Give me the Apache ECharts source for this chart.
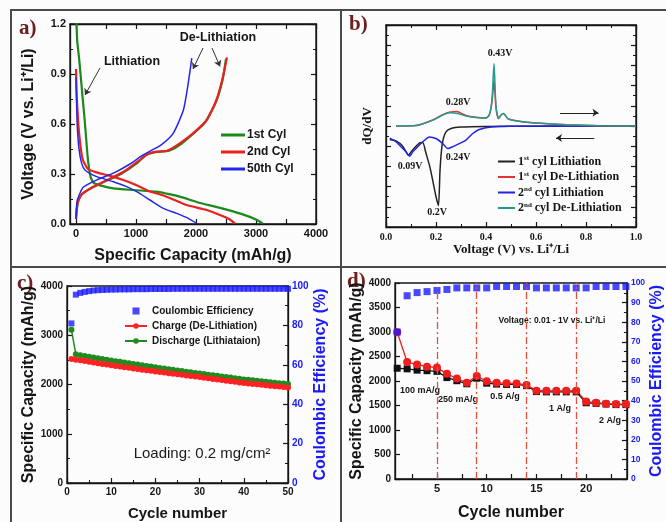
<!DOCTYPE html>
<html>
<head>
<meta charset="utf-8">
<script src="https://cdn.jsdelivr.net/npm/echarts@6/dist/echarts.min.js"></script>
<style>
html,body{margin:0;padding:0;background:#fcfcfc;}
#main{width:666px;height:522px;}
</style>
</head>
<body>
<div id="main"></div>
<script>
// a) voltage profiles, [capacity mAh/g, voltage V]
const aLith1 = [[5,1.25],[20,1.1],[50,1.0],[100,0.8],[150,0.6],[190,0.42],[215,0.34],[245,0.28],[300,0.245],[400,0.232],[620,0.214],[950,0.204],[1340,0.194],[1510,0.182],[1730,0.164],[2070,0.126],[2300,0.106],[2510,0.086],[2790,0.056],[3010,0.026],[3110,0.004]];
const aDelith1 = [[0,0.03],[25,0.12],[80,0.17],[200,0.205],[450,0.25],[750,0.3],[1000,0.36],[1150,0.41],[1300,0.43],[1550,0.44],[1750,0.48],[1950,0.54],[2150,0.61],[2330,0.73],[2440,0.86],[2500,0.99]];
const aLith2 = [[0,0.93],[15,0.75],[50,0.55],[110,0.39],[200,0.33],[344,0.31],[556,0.29],[800,0.262],[1000,0.234],[1200,0.2],[1510,0.164],[1844,0.114],[2178,0.084],[2400,0.054],[2550,0.03],[2650,0.004]];
const aDelith2 = [[0,0.03],[30,0.13],[100,0.18],[250,0.215],[500,0.26],[800,0.315],[1050,0.38],[1200,0.42],[1350,0.434],[1520,0.44],[1730,0.484],[1950,0.544],[2180,0.624],[2340,0.744],[2450,0.884],[2515,1.0]];
const aLith50 = [[0,0.88],[20,0.6],[50,0.45],[94,0.364],[150,0.324],[345,0.284],[622,0.254],[844,0.224],[1011,0.194],[1233,0.144],[1456,0.094],[1678,0.064],[1872,0.034],[2011,0.004]];
const aDelith50 = [[0,0.03],[20,0.14],[120,0.22],[350,0.265],[650,0.31],[900,0.36],[1100,0.41],[1250,0.44],[1420,0.475],[1620,0.544],[1790,0.684],[1870,0.844],[1930,0.995]];
const aXTicks = [0,1000,2000,3000,4000];
const aXMinor = [0,500,1000,1500,2000,2500,3000,3500,4000];

// b) dQ/dV, [voltage V, arbitrary units]
const bLith1 = [[0.015,-0.67],[0.04,-0.74],[0.067,-1.0],[0.09,-1.45],[0.1,-1.28],[0.12,-1.0],[0.136,-0.83],[0.147,-0.82],[0.16,-1.35],[0.175,-2.0],[0.187,-2.7],[0.2,-3.5],[0.21,-3.95],[0.216,-2.2],[0.222,-1.2],[0.228,-0.7],[0.24,-0.29],[0.26,-0.12],[0.3,-0.05],[0.4,-0.02],[0.6,-0.01],[1.0,0]];
const bDelith1 = [[0.04,0],[0.12,0.02],[0.187,0.3],[0.227,0.56],[0.253,0.68],[0.283,0.72],[0.32,0.52],[0.36,0.43],[0.4,0.4],[0.413,0.54],[0.424,1.2],[0.432,2.27],[0.44,0.9],[0.45,0.37],[0.46,0.54],[0.47,0.62],[0.487,0.37],[0.52,0.26],[0.587,0.16],[0.72,0.06],[0.853,0.01],[1.0,0]];
const bLith2 = [[0.015,-0.6],[0.04,-0.78],[0.06,-1.03],[0.08,-1.28],[0.095,-1.5],[0.107,-1.28],[0.127,-1.03],[0.147,-0.78],[0.173,-0.54],[0.2,-0.62],[0.227,-0.87],[0.247,-1.12],[0.267,-1.03],[0.293,-0.87],[0.32,-0.7],[0.347,-0.37],[0.373,-0.17],[0.42,-0.05],[0.5,-0.01],[1.0,0]];
const bDelith2 = [[0.04,0],[0.12,0.02],[0.187,0.29],[0.227,0.54],[0.253,0.65],[0.287,0.62],[0.32,0.49],[0.36,0.42],[0.4,0.39],[0.413,0.54],[0.424,1.3],[0.432,3.1],[0.44,0.95],[0.45,0.37],[0.46,0.54],[0.47,0.62],[0.487,0.37],[0.52,0.26],[0.587,0.16],[0.72,0.06],[0.853,0.01],[1.0,0]];

// c) cycling at 0.2 mg/cm2, cycles 1..50
const cCharge = [2520,2505,2490,2476,2462,2447,2433,2418,2404,2390,2377,2364,2351,2338,2325,2313,2301,2289,2277,2265,2253,2242,2230,2219,2207,2196,2184,2173,2161,2150,2138,2126,2114,2102,2090,2078,2066,2054,2042,2030,2021,2012,2003,1994,1985,1976,1967,1958,1949,1940];
const cDischarge = [3110,2612,2596,2580,2565,2549,2534,2518,2503,2488,2474,2460,2446,2432,2418,2404,2391,2378,2364,2350,2337,2324,2311,2299,2286,2274,2261,2249,2236,2224,2212,2200,2188,2176,2164,2152,2140,2128,2116,2104,2094,2084,2075,2065,2056,2046,2037,2027,2018,2008];
const cCE = [81,95.6,96.5,97,97.4,97.7,97.9,98,98.1,98.2,98.2,98.3,98.3,98.3,98.4,98.4,98.4,98.4,98.5,98.5,98.5,98.5,98.5,98.6,98.6,98.6,98.6,98.6,98.6,98.6,98.6,98.6,98.6,98.6,98.6,98.6,98.6,98.6,98.6,98.6,98.6,98.6,98.6,98.6,98.6,98.6,98.6,98.6,98.6,98.6];

// d) rate capability, cycles 1..24
const dCharge = [2996,2387,2336,2292,2273,2146,2051,1962,2102,1994,1962,1956,1950,1918,1803,1803,1800,1800,1803,1581,1556,1537,1530,1530];
const dDischarge = [2260,2248,2222,2210,2197,2070,2006,1943,2057,1956,1937,1930,1930,1905,1784,1778,1778,1778,1778,1556,1543,1530,1518,1518];
const dCE = [75,93.5,95.1,95.6,96.2,96.7,97.5,97.5,97.5,97.5,98.2,98.2,98.2,98.2,97.5,97.5,97.5,97.5,97.5,97.5,98.2,98.2,98.2,98.2];
const dRateLines = [5,9,14,19];
const dXTicks = [5,10,15,20];
const dXMinor = [2.5,5,7.5,10,12.5,15,17.5,20,22.5];

const byCycle = arr => arr.map((v, i) => [i + 1, v]);

const SANS = '"Liberation Sans", Arial, sans-serif';
const SERIF = '"Liberation Serif", "Times New Roman", serif';
const BLUE = '#1a1af5';
const INK = '#151515';
const line = {show: true, onZero: false, lineStyle: {color: INK, width: 1.3}};
const tick = {show: true, inside: true, length: 5, lineStyle: {color: INK, width: 1.2}};
const minor = {show: true, splitNumber: 2, length: 3, lineStyle: {color: INK, width: 1}};
const plain = v => String(v);
const sansLab = (size, color) => ({fontFamily: SANS, fontWeight: 'bold', fontSize: size, color: color || INK, margin: 4, formatter: plain});
const sansName = (size, color) => ({fontFamily: SANS, fontWeight: 'bold', fontSize: size, color: color || INK});
const serifLab = {fontFamily: SERIF, fontWeight: 'bold', fontSize: 10, color: INK, margin: 5};
const hidden = {show: false};

const myChart = echarts.init(document.getElementById('main'));

myChart.setOption({
  backgroundColor: '#fcfcfc',
  animation: false,
  grid: [
    {left: 70, top: 24, width: 246, height: 200, show: true, borderColor: INK, borderWidth: 1.3},
    {left: 386, top: 25, width: 250, height: 202, show: true, borderColor: INK, borderWidth: 1.3},
    {left: 67, top: 286, width: 221, height: 205, show: true, borderColor: INK, borderWidth: 1.3},
    {left: 395, top: 283, width: 233, height: 210, show: true, borderColor: INK, borderWidth: 1.3}
  ],
  xAxis: [
    {type: 'value', gridIndex: 0, min: -100, max: 4000, axisLine: line, splitLine: hidden,
     axisTick: Object.assign({customValues: aXMinor}, tick),
     axisLabel: Object.assign(sansLab(11), {customValues: aXTicks}),
     name: 'Specific Capacity (mAh/g)', nameLocation: 'middle', nameGap: 24, nameTextStyle: sansName(16)},
    {type: 'value', gridIndex: 0, position: 'top', min: -100, max: 4000, axisLine: line, splitLine: hidden,
     axisTick: Object.assign({customValues: aXMinor}, tick), axisLabel: hidden},
    {type: 'value', gridIndex: 1, min: 0, max: 1, interval: 0.2, axisLine: line, splitLine: hidden,
     axisTick: tick, minorTick: minor,
     axisLabel: Object.assign({formatter: v => v.toFixed(1)}, serifLab),
     name: 'Voltage (V) vs. Li\u207A/Li', nameLocation: 'middle', nameGap: 16,
     nameTextStyle: {fontFamily: SERIF, fontWeight: 'bold', fontSize: 13, color: INK}},
    {type: 'value', gridIndex: 1, position: 'top', min: 0, max: 1, interval: 0.2, axisLine: line, splitLine: hidden,
     axisTick: tick, minorTick: minor, axisLabel: hidden},
    {type: 'value', gridIndex: 2, min: 0, max: 50, interval: 10, axisLine: line, splitLine: hidden,
     axisTick: tick, minorTick: minor, axisLabel: sansLab(10),
     name: 'Cycle number', nameLocation: 'middle', nameGap: 23, nameTextStyle: sansName(15)},
    {type: 'value', gridIndex: 3, min: 0.78, max: 24.1, axisLine: line, splitLine: hidden,
     axisTick: Object.assign({customValues: dXMinor}, tick),
     axisLabel: Object.assign(sansLab(11), {customValues: dXTicks}),
     name: 'Cycle number', nameLocation: 'middle', nameGap: 26, nameTextStyle: sansName(16)}
  ],
  yAxis: [
    {type: 'value', gridIndex: 0, min: 0, max: 1.2, interval: 0.3, axisLine: line, splitLine: hidden,
     axisTick: tick, minorTick: minor,
     axisLabel: Object.assign(sansLab(11), {formatter: v => v.toFixed(1)}),
     name: 'Voltage (V vs. Li\u207A/Li)', nameLocation: 'middle', nameGap: 33, nameTextStyle: sansName(16)},
    {type: 'value', gridIndex: 0, position: 'right', min: 0, max: 1.2, interval: 0.3, axisLine: line, splitLine: hidden,
     axisTick: tick, minorTick: minor, axisLabel: hidden},
    {type: 'value', gridIndex: 1, min: -5, max: 5, interval: 1, axisLine: line, splitLine: hidden,
     axisTick: tick, minorTick: minor, axisLabel: hidden,
     name: 'dQ/dV', nameLocation: 'middle', nameGap: 12,
     nameTextStyle: {fontFamily: SERIF, fontWeight: 'bold', fontSize: 13, color: INK}},
    {type: 'value', gridIndex: 1, position: 'right', min: -5, max: 5, interval: 1, axisLine: line, splitLine: hidden,
     axisTick: tick, minorTick: minor, axisLabel: hidden},
    {type: 'value', gridIndex: 2, min: 0, max: 4000, interval: 1000, axisLine: line, splitLine: hidden,
     axisTick: tick, minorTick: minor, axisLabel: sansLab(10),
     name: 'Specific Capacity (mAh/g)', nameLocation: 'middle', nameGap: 27, nameTextStyle: sansName(16)},
    {type: 'value', gridIndex: 2, position: 'right', min: 0, max: 100, interval: 20, axisLine: line, splitLine: hidden,
     axisTick: tick, minorTick: minor, axisLabel: sansLab(10, BLUE),
     name: 'Coulombic Efficiency (%)', nameLocation: 'middle', nameGap: 18, nameTextStyle: sansName(16, BLUE)},
    {type: 'value', gridIndex: 3, min: 0, max: 4000, interval: 500, axisLine: line, splitLine: hidden,
     axisTick: tick, axisLabel: sansLab(10),
     name: 'Specific Capacity (mAh/g)', nameLocation: 'middle', nameGap: 22, nameTextStyle: sansName(16)},
    {type: 'value', gridIndex: 3, position: 'right', min: 0, max: 100, interval: 10, axisLine: line, splitLine: hidden,
     axisTick: tick, minorTick: minor, axisLabel: sansLab(8.5, BLUE),
     name: 'Coulombic Efficiency (%)', nameLocation: 'middle', nameGap: 12, nameTextStyle: sansName(16, BLUE)}
  ],
  legend: [
    {left: 221, top: 129, orient: 'vertical', icon: 'rect', itemWidth: 24, itemHeight: 3, itemGap: 5, padding: 0,
     data: ['1st Cyl', '2nd Cyl', '50th Cyl'],
     textStyle: {fontFamily: SANS, fontWeight: 'bold', fontSize: 12, color: INK, padding: [0, 0, 0, -3]}},
    {left: 498, top: 155, orient: 'vertical', icon: 'rect', itemWidth: 17, itemHeight: 2, itemGap: 3, padding: 0,
     data: ['1st cyl Lithiation', '1st cyl De-Lithiation', '2nd cyl Lithiation', '2nd cyl De-Lithiation'],
     formatter: n => n.replace(/^(\d)(st|nd)/, '$1{s|$2}'),
     textStyle: {fontFamily: SERIF, fontWeight: 'bold', fontSize: 12, color: INK, padding: [0, 0, 0, -2],
       rich: {s: {fontFamily: SERIF, fontWeight: 'bold', fontSize: 7, verticalAlign: 'top', padding: [0, 0, 6, 0]}}}},
    {left: 124, top: 306, orient: 'vertical', itemWidth: 22, itemHeight: 7, itemGap: 5, padding: 0,
     data: [{name: 'Coulombic Efficiency', icon: 'path://M0,0h10v10h-10z'}, 'Charge (De-Lithiation)', 'Discharge (Lithiataion)'],
     textStyle: {fontFamily: SANS, fontWeight: 'bold', fontSize: 10, color: INK}}
  ],
  series: [
    // a)
    {name: '1st Cyl', type: 'line', xAxisIndex: 0, yAxisIndex: 0, data: aLith1, symbol: 'none', smooth: 0.2,
     color: '#1b8a1b', lineStyle: {width: 2.2}},
    {name: '1st Cyl', type: 'line', xAxisIndex: 0, yAxisIndex: 0, data: aDelith1, symbol: 'none', smooth: 0.2,
     color: '#1b8a1b', lineStyle: {width: 2.2}},
    {name: '2nd Cyl', type: 'line', xAxisIndex: 0, yAxisIndex: 0, data: aLith2, symbol: 'none', smooth: 0.2,
     color: '#e82222', lineStyle: {width: 2.2}},
    {name: '2nd Cyl', type: 'line', xAxisIndex: 0, yAxisIndex: 0, data: aDelith2, symbol: 'none', smooth: 0.2,
     color: '#e82222', lineStyle: {width: 2.2}},
    {name: '50th Cyl', type: 'line', xAxisIndex: 0, yAxisIndex: 0, data: aLith50, symbol: 'none', smooth: 0.2,
     color: '#2626e8', lineStyle: {width: 1.5}},
    {name: '50th Cyl', type: 'line', xAxisIndex: 0, yAxisIndex: 0, data: aDelith50, symbol: 'none', smooth: 0.2,
     color: '#2626e8', lineStyle: {width: 1.5},
     markLine: {silent: true, symbol: ['none', 'arrow'], symbolSize: 6, label: hidden,
       lineStyle: {color: '#333', width: 1, type: 'solid'},
       data: [
         [{coord: [400, 0.936]}, {coord: [150, 0.774]}],
         [{coord: [2117, 1.056]}, {coord: [1950, 0.93]}],
         [{coord: [2267, 1.056]}, {coord: [2400, 0.945]}]
       ]}},
    // b)
    {name: '1st cyl Lithiation', type: 'line', xAxisIndex: 2, yAxisIndex: 2, data: bLith1, symbol: 'none', smooth: 0.2,
     color: '#222', lineStyle: {width: 1.5}},
    {name: '2nd cyl Lithiation', type: 'line', xAxisIndex: 2, yAxisIndex: 2, data: bLith2, symbol: 'none', smooth: 0.2,
     color: '#2323e6', lineStyle: {width: 1.5}},
    {name: '1st cyl De-Lithiation', type: 'line', xAxisIndex: 2, yAxisIndex: 2, data: bDelith1, symbol: 'none', smooth: 0.2,
     color: '#e63232', lineStyle: {width: 1.5}},
    {name: '2nd cyl De-Lithiation', type: 'line', xAxisIndex: 2, yAxisIndex: 2, data: bDelith2, symbol: 'none', smooth: 0.2,
     color: '#1f9c8c', lineStyle: {width: 1.5},
     markLine: {silent: true, symbol: ['none', 'arrow'], symbolSize: 6, label: hidden,
       lineStyle: {color: '#222', width: 1, type: 'solid'},
       data: [
         [{coord: [0.696, 0.65]}, {coord: [0.85, 0.65]}],
         [{coord: [0.833, -0.59]}, {coord: [0.68, -0.59]}]
       ]}},
    // c)
    {name: 'Coulombic Efficiency', type: 'scatter', xAxisIndex: 4, yAxisIndex: 5, data: byCycle(cCE),
     symbol: 'rect', symbolSize: 6, color: '#1a1aff', z: 4},
    {name: 'Discharge (Lithiataion)', type: 'line', xAxisIndex: 4, yAxisIndex: 4, data: byCycle(cDischarge),
     symbol: 'circle', symbolSize: 6, color: '#1f8c1f', lineStyle: {width: 1.5}},
    {name: 'Charge (De-Lithiation)', type: 'line', xAxisIndex: 4, yAxisIndex: 4, data: byCycle(cCharge),
     symbol: 'circle', symbolSize: 6, color: '#ff2222', lineStyle: {width: 1.5}},
    // d)
    {name: 'd discharge', type: 'line', xAxisIndex: 5, yAxisIndex: 6, data: byCycle(dDischarge),
     symbol: 'rect', symbolSize: 7, color: '#111', lineStyle: {width: 1.3},
     markLine: {silent: true, symbol: 'none', label: hidden,
       lineStyle: {color: '#e0523c', width: 1.3, type: [7, 3, 2, 3]},
       data: dRateLines.map(v => ({xAxis: v}))}},
    {name: 'd charge', type: 'line', xAxisIndex: 5, yAxisIndex: 6, data: byCycle(dCharge),
     symbol: 'circle', symbolSize: 8, color: '#f21d1d', lineStyle: {width: 1.3}},
    {name: 'd CE', type: 'scatter', xAxisIndex: 5, yAxisIndex: 7, data: byCycle(dCE),
     symbol: 'rect', symbolSize: 7, color: '#1a1aff', z: 4}
  ],
  graphic: [
    // panel frame
    {type: 'rect', shape: {x: 11, y: 10, width: 700, height: 600}, style: {fill: 'none', stroke: '#4a4a4a', lineWidth: 2}, silent: true},
    {type: 'line', shape: {x1: 341, y1: 10, x2: 341, y2: 522}, style: {stroke: '#4a4a4a', lineWidth: 2}, silent: true},
    {type: 'line', shape: {x1: 11, y1: 267, x2: 666, y2: 267}, style: {stroke: '#4a4a4a', lineWidth: 2}, silent: true},
    // panel letters
    {type: 'text', left: 19, top: 18, style: {text: 'a)', font: 'bold 21px ' + SERIF, fill: '#6e2020'}},
    {type: 'text', left: 349, top: 14, style: {text: 'b)', font: 'bold 21px ' + SERIF, fill: '#6e2020'}},
    {type: 'text', left: 17, top: 273, style: {text: 'c)', font: 'bold 21px ' + SERIF, fill: '#6e2020'}},
    {type: 'text', left: 347, top: 271, style: {text: 'd)', font: 'bold 21px ' + SERIF, fill: '#6e2020'}},
    // a) notes
    {type: 'text', x: 132, y: 62, style: {text: 'Lithiation', font: 'bold 12.5px ' + SANS, fill: INK, textAlign: 'center', textVerticalAlign: 'middle'}},
    {type: 'text', x: 218, y: 38, style: {text: 'De-Lithiation', font: 'bold 12.5px ' + SANS, fill: INK, textAlign: 'center', textVerticalAlign: 'middle'}},
    // b) peak notes
    {type: 'text', x: 500, y: 53, style: {text: '0.43V', font: 'bold 10px ' + SERIF, fill: INK, textAlign: 'center', textVerticalAlign: 'middle'}},
    {type: 'text', x: 458, y: 102, style: {text: '0.28V', font: 'bold 10px ' + SERIF, fill: INK, textAlign: 'center', textVerticalAlign: 'middle'}},
    {type: 'text', x: 458, y: 157, style: {text: '0.24V', font: 'bold 10px ' + SERIF, fill: INK, textAlign: 'center', textVerticalAlign: 'middle'}},
    {type: 'text', x: 410, y: 166, style: {text: '0.09V', font: 'bold 10px ' + SERIF, fill: INK, textAlign: 'center', textVerticalAlign: 'middle'}},
    {type: 'text', x: 437, y: 212, style: {text: '0.2V', font: 'bold 10px ' + SERIF, fill: INK, textAlign: 'center', textVerticalAlign: 'middle'}},
    // c) note
    {type: 'text', x: 202, y: 454, style: {text: 'Loading: 0.2 mg/cm\u00B2', font: '15px ' + SANS, fill: '#1a1a1a', textAlign: 'center', textVerticalAlign: 'middle'}},
    // d) notes
    {type: 'text', x: 552, y: 321, style: {text: 'Voltage: 0.01 - 1V vs. Li\u207A/Li', font: 'bold 8.5px ' + SANS, fill: INK, textAlign: 'center', textVerticalAlign: 'middle'}},
    {type: 'text', x: 420, y: 391, style: {text: '100 mA/g', font: 'bold 9px ' + SANS, fill: INK, textAlign: 'center', textVerticalAlign: 'middle'}},
    {type: 'text', x: 458, y: 400, style: {text: '250 mA/g', font: 'bold 9px ' + SANS, fill: INK, textAlign: 'center', textVerticalAlign: 'middle'}},
    {type: 'text', x: 505, y: 397, style: {text: '0.5 A/g', font: 'bold 9px ' + SANS, fill: INK, textAlign: 'center', textVerticalAlign: 'middle'}},
    {type: 'text', x: 560, y: 409, style: {text: '1 A/g', font: 'bold 9px ' + SANS, fill: INK, textAlign: 'center', textVerticalAlign: 'middle'}},
    {type: 'text', x: 610, y: 421, style: {text: '2 A/g', font: 'bold 9px ' + SANS, fill: INK, textAlign: 'center', textVerticalAlign: 'middle'}}
  ]
});
</script>
</body>
</html>
